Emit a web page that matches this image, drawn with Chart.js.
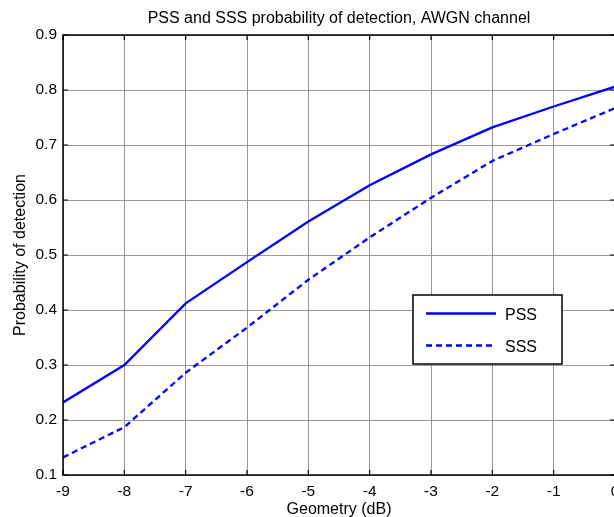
<!DOCTYPE html>
<html>
<head>
<meta charset="utf-8">
<script src="https://cdn.jsdelivr.net/npm/chart.js@4.4.1/dist/chart.umd.min.js"></script>
<style>
  html, body { margin: 0; padding: 0; background: #fff; overflow: hidden; }
  #wrap { width: 640px; height: 517px; }
</style>
</head>
<body>
<div id="wrap"><canvas id="detChart" width="640" height="517"></canvas></div>
<script>
const geometry = [-9, -8, -7, -6, -5, -4, -3, -2, -1, 0]
const pss = [0.232, 0.300, 0.412, 0.487, 0.561, 0.627, 0.683, 0.732, 0.770, 0.806]
const sss = [0.132, 0.187, 0.286, 0.368, 0.455, 0.532, 0.604, 0.671, 0.720, 0.767]
const seriesNames = ['PSS', 'SSS']
const chartTitle = 'PSS and SSS probability of detection, AWGN channel'

const FONT = 'Liberation Sans, Arial, sans-serif'
const blue = '#0000ff'

// black box + small inward ticks, matlab style; title centred on the axes
const axesBox = {
    id: 'axesBox',
    afterDraw(chart) {
        const { ctx, chartArea: a, scales } = chart
        ctx.save()
        ctx.strokeStyle = '#000'
        ctx.lineWidth = 1.5
        ctx.strokeRect(a.left, a.top, a.right - a.left, a.bottom - a.top)
        ctx.lineWidth = 1.2
        ctx.beginPath()
        scales.x.ticks.forEach(t => {
            const x = scales.x.getPixelForValue(t.value)
            ctx.moveTo(x, a.bottom); ctx.lineTo(x, a.bottom - 5)
            ctx.moveTo(x, a.top); ctx.lineTo(x, a.top + 5)
        })
        scales.y.ticks.forEach(t => {
            const y = scales.y.getPixelForValue(t.value)
            ctx.moveTo(a.left, y); ctx.lineTo(a.left + 5, y)
            ctx.moveTo(a.right, y); ctx.lineTo(a.right - 5, y)
        })
        ctx.stroke()

        ctx.fillStyle = '#000'
        ctx.font = '16px ' + FONT
        ctx.textAlign = 'center'
        ctx.textBaseline = 'middle'
        ctx.fillText(chartTitle, (a.left + a.right) / 2, a.top - 16)
        ctx.restore()
    }
}

// legend box inside the plot, lower right
const boxLegend = {
    id: 'boxLegend',
    afterDraw(chart) {
        const { ctx, chartArea: a } = chart
        const x0 = a.left + 350, y0 = a.top + 260, w = 149, h = 69
        ctx.save()
        ctx.fillStyle = '#fff'
        ctx.fillRect(x0, y0, w, h)
        ctx.strokeStyle = '#000'
        ctx.lineWidth = 1.5
        ctx.strokeRect(x0, y0, w, h)
        chart.data.datasets.forEach((ds, i) => {
            const y = y0 + 18.5 + i * 32
            ctx.strokeStyle = ds.borderColor
            ctx.lineWidth = ds.borderWidth
            ctx.setLineDash(ds.borderDash || [])
            ctx.beginPath()
            ctx.moveTo(x0 + 13, y)
            ctx.lineTo(x0 + 83, y)
            ctx.stroke()
            ctx.setLineDash([])
            ctx.fillStyle = '#000'
            ctx.font = '16px ' + FONT
            ctx.textBaseline = 'middle'
            ctx.fillText(ds.label, x0 + 92, y + 2)
        })
        ctx.restore()
    }
}

const ctx = document.getElementById('detChart').getContext('2d')
new Chart(ctx, {
    type: 'line',
    data: {
        datasets: [{
            label: seriesNames[0],
            data: geometry.map((g, i) => ({ x: g, y: pss[i] })),
            borderColor: blue,
            borderWidth: 2.3,
            pointRadius: 0,
            tension: 0
        },
        {
            label: seriesNames[1],
            data: geometry.map((g, i) => ({ x: g, y: sss[i] })),
            borderColor: blue,
            borderWidth: 2.3,
            borderDash: [6, 4],
            pointRadius: 0,
            tension: 0
        }]
    },
    options: {
        responsive: false,
        animation: false,
        layout: { padding: { left: 0, right: 25, top: 35, bottom: 0 } },
        plugins: {
            legend: { display: false },
            tooltip: { enabled: false },
            title: { display: false }
        },
        scales: {
            x: {
                type: 'linear',
                min: -9, max: 0,
                afterFit: s => { s.height = 42 },
                ticks: { stepSize: 1, color: '#000', padding: 7, maxRotation: 0, font: { family: FONT, size: 15.5 } },
                grid: { color: '#999999', lineWidth: 1, drawTicks: false },
                border: { display: false },
                title: { display: true, text: 'Geometry (dB)', color: '#000', font: { family: FONT, size: 16 }, padding: { top: 0, bottom: -2 } }
            },
            y: {
                min: 0.1, max: 0.9,
                afterFit: s => { s.width = 63 },
                ticks: { stepSize: 0.1, color: '#000', padding: 6, font: { family: FONT, size: 15.5 }, callback: v => v.toFixed(1) },
                grid: { color: '#999999', lineWidth: 1, drawTicks: false },
                border: { display: false },
                title: { display: true, text: 'Probability of detection', color: '#000', font: { family: FONT, size: 16 }, padding: { top: 11, bottom: 0 } }
            }
        }
    },
    plugins: [axesBox, boxLegend]
})
</script>
</body>
</html>
